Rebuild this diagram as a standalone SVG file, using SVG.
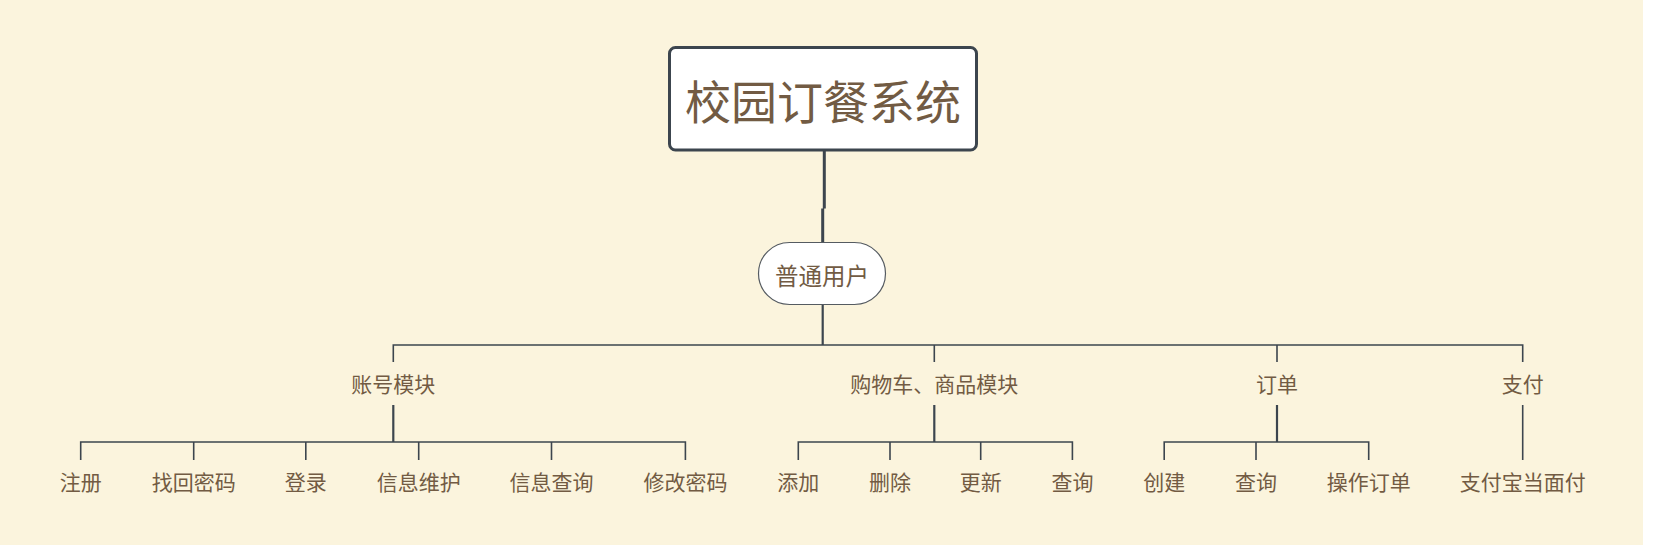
<svg xmlns="http://www.w3.org/2000/svg" width="1653" height="549" viewBox="0 0 1653 549">
<style>
.t{font-family:"Microsoft YaHei","Noto Sans CJK SC","Noto Sans",sans-serif;fill:#725b43;text-anchor:middle}
.leaf{font-size:21px}
.l1{font-size:21px}
.c{fill:none;stroke:#3c454e;stroke-width:1.6}
.c2{fill:none;stroke:#3c454e;stroke-width:2.2}
</style>
<rect x="0" y="0" width="1653" height="549" fill="#ffffff"/>
<rect x="0" y="0" width="1643" height="545" fill="#fbf4dd"/>
<g id="connectors">
<path class="c" d="M824.3 150 V208.5 M822.7 208.5 V242" style="stroke-width:3"/>
<path class="c2" d="M822.7 305 V345"/>
<path class="c" d="M393.3 362 V345 H1522.7 V362 M934.3 345 V362 M1277 345 V362"/>
<path class="c2" d="M393.3 405 V442"/>
<path class="c" d="M80.7 460 V442 H685.4 V460 M193.7 442 V460 M305.8 442 V460 M418.7 442 V460 M551.5 442 V460"/>
<path class="c2" d="M934.3 405 V442"/>
<path class="c" d="M798.3 460 V442 H1072.4 V460 M890 442 V460 M980.7 442 V460"/>
<path class="c2" d="M1277 405 V442"/>
<path class="c" d="M1164.2 460 V442 H1368.7 V460 M1256 442 V460"/>
<path class="c" d="M1522.7 405 V460"/>
</g>
<g id="root">
<rect x="669.5" y="47.5" width="307" height="102.5" rx="6" fill="#ffffff" stroke="#3c454e" stroke-width="3"/>
<text class="t" x="823" y="119" font-size="46">校园订餐系统</text>
</g>
<g id="user">
<rect x="758.5" y="242.5" width="127" height="62" rx="31" fill="#ffffff" stroke="#555b61" stroke-width="1.2"/>
<text class="t" x="822" y="284.5" font-size="23.5">普通用户</text>
</g>
<g id="account"><text class="t l1" x="393.3" y="392">账号模块</text></g>
<g id="cart"><text class="t l1" x="934.3" y="392">购物车、商品模块</text></g>
<g id="order"><text class="t l1" x="1277" y="392">订单</text></g>
<g id="pay"><text class="t l1" x="1522.7" y="392">支付</text></g>
<g id="register"><text class="t leaf" x="80.7" y="490">注册</text></g>
<g id="recover"><text class="t leaf" x="193.7" y="490">找回密码</text></g>
<g id="login"><text class="t leaf" x="305.8" y="490">登录</text></g>
<g id="infomaint"><text class="t leaf" x="418.7" y="490">信息维护</text></g>
<g id="infoquery"><text class="t leaf" x="551.5" y="490">信息查询</text></g>
<g id="changepwd"><text class="t leaf" x="685.4" y="490">修改密码</text></g>
<g id="add"><text class="t leaf" x="798.3" y="490">添加</text></g>
<g id="delete"><text class="t leaf" x="890" y="490">删除</text></g>
<g id="update"><text class="t leaf" x="980.7" y="490">更新</text></g>
<g id="cartquery"><text class="t leaf" x="1072.4" y="490">查询</text></g>
<g id="create"><text class="t leaf" x="1164.2" y="490">创建</text></g>
<g id="orderquery"><text class="t leaf" x="1256" y="490">查询</text></g>
<g id="orderop"><text class="t leaf" x="1368.7" y="490">操作订单</text></g>
<g id="alipay"><text class="t leaf" x="1522.7" y="490">支付宝当面付</text></g>
</svg>
